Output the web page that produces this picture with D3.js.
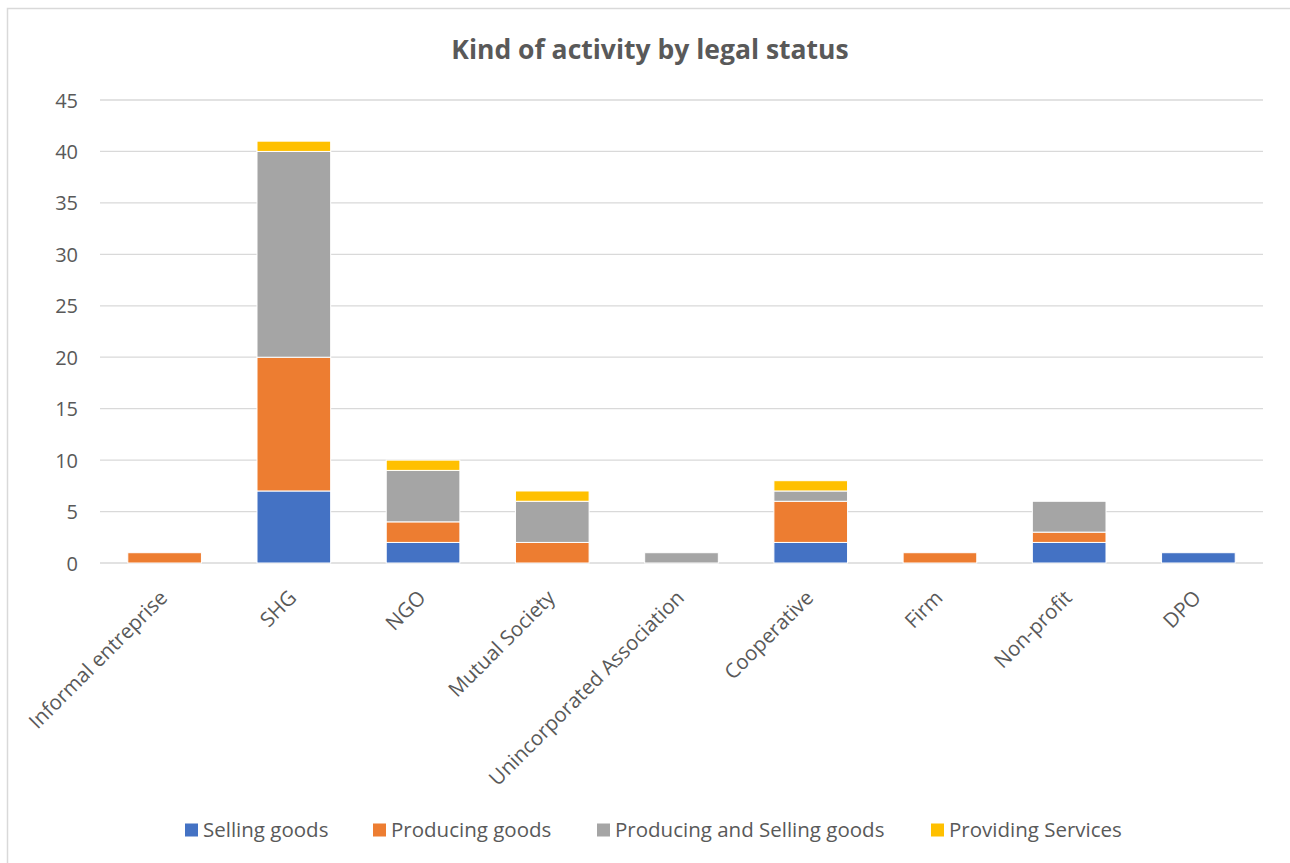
<!DOCTYPE html>
<html>
<head>
<meta charset="utf-8">
<script src="https://cdn.jsdelivr.net/npm/d3@7"></script>
<style>
  html, body { margin: 0; padding: 0; background: #fff; overflow: hidden; }
  svg { display: block; font-family: "Open Sans", Lato, sans-serif; }
</style>
</head>
<body>
<svg id="chart" width="1290" height="863"></svg>
<script>
// Legal status categories along the x axis
const categories = ["Informal entreprise", "SHG", "NGO", "Mutual Society",
  "Unincorporated Association", "Cooperative", "Firm", "Non-profit", "DPO"];

// Series: kind of activity, counts per legal status
const seriesNames = ["Selling goods", "Producing goods", "Producing and Selling goods", "Providing Services"];
const sellingGoods        = [0, 7, 2, 0, 0, 2, 0, 2, 1];
const producingGoods      = [1, 13, 2, 2, 0, 4, 1, 1, 0];
const producingAndSelling = [0, 20, 5, 4, 1, 1, 0, 3, 0];
const providingServices   = [0, 1, 1, 1, 0, 1, 0, 0, 0];
const yTicks = [0, 5, 10, 15, 20, 25, 30, 35, 40, 45];

const colors = ["#4472C4", "#ED7D31", "#A5A5A5", "#FFC000"];
const textColor = "#595959";
const labelFont = "'Open Sans', Lato, sans-serif";

const svg = d3.select("#chart");
const W = 1290, H = 863;
const plot = { left: 100, right: 1263, top: 100, bottom: 563 };

// Chart frame: left and top edges (the rest runs off the page)
svg.append("path")
  .attr("d", `M7.5,${H} V8.5 H${W}`)
  .attr("fill", "none").attr("stroke", "#D9D9D9").attr("stroke-width", 1.5);

// Title
svg.append("text")
  .attr("x", 650).attr("y", 59)
  .attr("text-anchor", "middle")
  .attr("font-size", 26.5).attr("font-weight", "bold")
  .attr("fill", textColor)
  .text("Kind of activity by legal status");

const x = d3.scaleBand().domain(categories)
  .range([plot.left, plot.right]).paddingInner(0.43).paddingOuter(0.215);
const y = d3.scaleLinear().domain([0, 45]).range([plot.bottom, plot.top]);

// Gridlines
svg.append("g").selectAll("line").data(yTicks).join("line")
  .attr("x1", plot.left).attr("x2", plot.right)
  .attr("y1", d => y(d)).attr("y2", d => y(d))
  .attr("stroke", "#D9D9D9").attr("stroke-width", 1.3);

// Y axis labels
const yAxis = d3.axisLeft(y).tickValues(yTicks).tickSize(0).tickPadding(0);
const gy = svg.append("g").attr("transform", `translate(78,0)`).call(yAxis);
gy.select(".domain").remove();
gy.selectAll("text")
  .attr("font-size", 20).attr("font-family", labelFont)
  .attr("fill", textColor).attr("dy", "0.35em");

// Stacked bars
const rows = categories.map((c, i) => ({
  category: c,
  [seriesNames[0]]: sellingGoods[i],
  [seriesNames[1]]: producingGoods[i],
  [seriesNames[2]]: producingAndSelling[i],
  [seriesNames[3]]: providingServices[i]
}));
const stacked = d3.stack().keys(seriesNames)(rows);

svg.append("g").selectAll("g").data(stacked).join("g")
  .attr("fill", (d, i) => colors[i])
  .selectAll("rect").data(d => d.filter(s => s[1] - s[0] > 0)).join("rect")
  .attr("x", d => x(d.data.category))
  .attr("width", x.bandwidth())
  .attr("y", d => y(d[1]))
  .attr("height", d => y(d[0]) - y(d[1]))
  .attr("stroke", "#fff").attr("stroke-width", 1);

// X axis labels, rotated
const xAxis = d3.axisBottom(x).tickSize(0).tickPadding(0);
const gx = svg.append("g").attr("transform", `translate(0,${plot.bottom})`).call(xAxis);
gx.select(".domain").remove();
gx.selectAll("text")
  .attr("font-size", 20.5).attr("font-family", labelFont)
  .attr("fill", textColor)
  .attr("text-anchor", "end")
  .attr("dy", null).attr("y", 0)
  .attr("transform", "translate(4,36) rotate(-45)");

// Legend
const legendX = [185, 373, 597, 931];
const legend = svg.append("g").selectAll("g").data(seriesNames).join("g")
  .attr("transform", (d, i) => `translate(${legendX[i]},830)`);
legend.append("rect")
  .attr("x", 0).attr("y", -6.5).attr("width", 13).attr("height", 13)
  .attr("fill", (d, i) => colors[i]);
legend.append("text")
  .attr("x", 18).attr("y", 0).attr("dy", "0.35em")
  .attr("font-size", 20.5).attr("fill", textColor)
  .text(d => d);
</script>
</body>
</html>
